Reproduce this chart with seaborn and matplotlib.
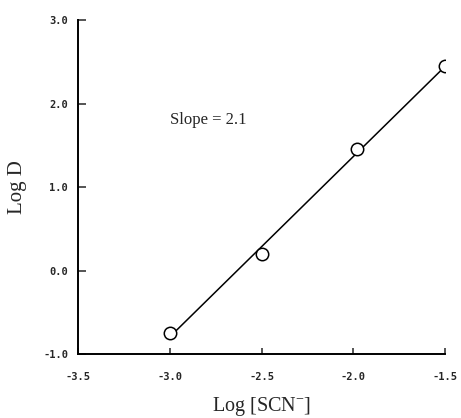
import numpy as np
import pandas as pd
import matplotlib
matplotlib.use("Agg")
import matplotlib.pyplot as plt
import seaborn as sns

# data
log_scn = [-3.0, -2.5, -1.98, -1.5]
log_d = [-0.75, 0.2, 1.45, 2.45]
x_ticks = [-3.5, -3.0, -2.5, -2.0, -1.5]
y_ticks = [-1.0, 0.0, 1.0, 2.0, 3.0]
slope_label = "Slope = 2.1"

df = pd.DataFrame({"x": log_scn, "y": log_d})

# least squares line through the points
coef = np.polyfit(df["x"], df["y"], 1)
fit = pd.DataFrame({"x": [min(log_scn), max(log_scn)]})
fit["y"] = np.polyval(coef, fit["x"])

sns.set_style("ticks")
plt.rcParams["font.family"] = ["Liberation Serif", "DejaVu Serif"]

fig = plt.figure(figsize=(4.61, 4.18), dpi=100)
ax = fig.add_axes([0.169, 0.153, 0.797, 0.799])

sns.lineplot(data=fit, x="x", y="y", color="black", linewidth=1.1, ax=ax, zorder=2)
sns.scatterplot(data=df, x="x", y="y", s=80, marker="o", facecolor="white",
                edgecolor="black", linewidth=1.1, ax=ax, zorder=3)

ax.set_xlim(-3.5, -1.5)
ax.set_ylim(-1.0, 3.0)
ax.set_xticks(x_ticks)
ax.set_yticks(y_ticks)
ax.set_xticklabels([f"{v:.1f}" for v in x_ticks], fontfamily="DejaVu Sans Mono",
                   fontweight="bold", fontsize=7.5)
ax.set_yticklabels([f"{v:.1f}" for v in y_ticks], fontfamily="DejaVu Sans Mono",
                   fontweight="bold", fontsize=7.5)
ax.tick_params(axis="y", direction="in", length=6, width=1.1, pad=7)
ax.tick_params(axis="x", direction="in", length=4, width=1.1, pad=13)

for side in ["top", "right"]:
    ax.spines[side].set_visible(False)
for side in ["left", "bottom"]:
    ax.spines[side].set_linewidth(1.4)
    ax.spines[side].set_color("black")

ax.set_xlabel("Log [SCN$^{\\mathregular{-}}$]", fontsize=14.5, labelpad=9)
ax.set_ylabel("Log D", fontsize=15, labelpad=12)

ax.text(-3.0, 1.8, slope_label, fontsize=12, va="center", ha="left")

fig.savefig("out.png", dpi=100)
